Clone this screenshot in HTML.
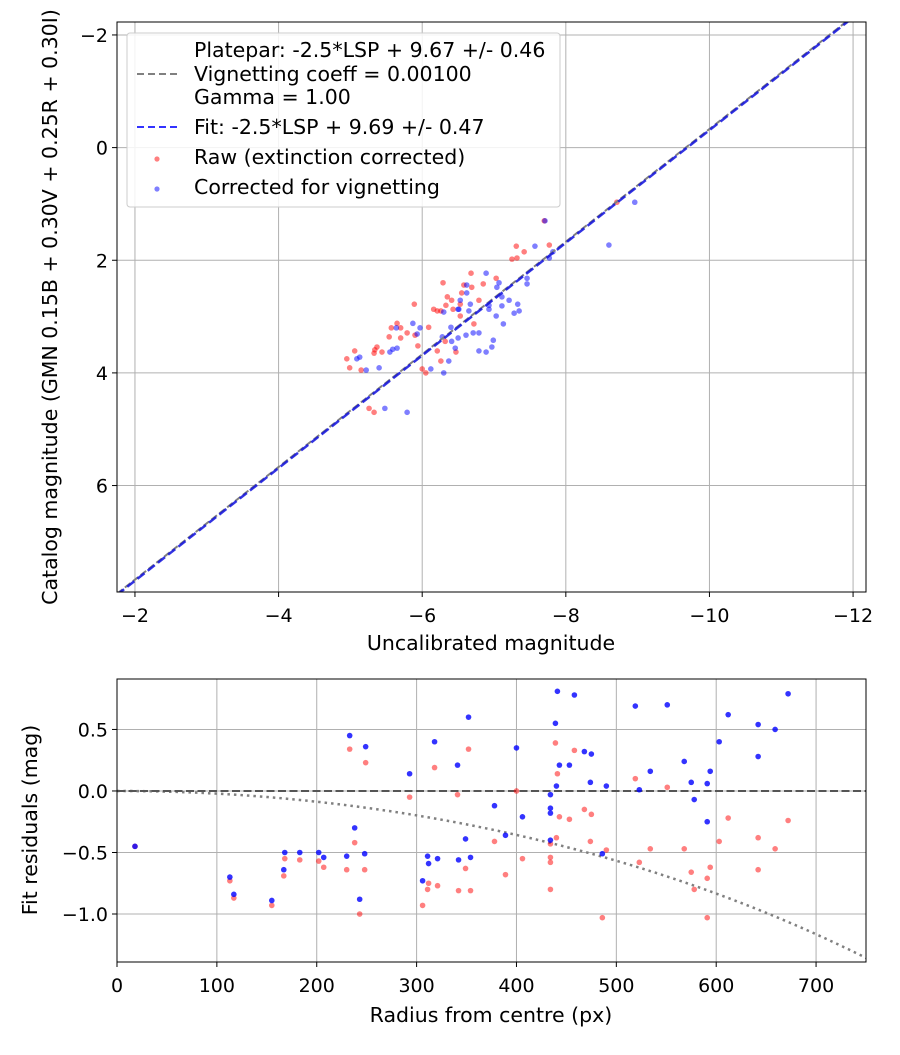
<!DOCTYPE html>
<html><head><meta charset="utf-8"><style>
body{margin:0;background:#fff}
svg text{font-family:"DejaVu Sans","Liberation Sans",sans-serif;fill:#000}
</style></head><body>
<svg id="s" width="900" height="1050" viewBox="0 0 900 1050" xmlns="http://www.w3.org/2000/svg">
<rect width="900" height="1050" fill="#fff"/>
<g id="topplot"></g>
<g id="botplot"></g>
</svg>
<script>
// ---- top chart data ----
const rawX=[-8.71,-7.70,-7.31,-7.77,-7.42,-7.25,-7.32,-6.68,-7.03,-6.29,-6.85,-6.58,-6.69,-6.35,-6.41,-6.55,-6.79,-5.89,-6.16,-6.21,-6.26,-6.33,-6.43,-6.53,-6.53,-6.72,-6.09,-5.65,-5.57,-5.70,-5.79,-5.54,-5.70,-5.90,-6.32,-5.94,-5.37,-5.34,-5.33,-5.44,-5.06,-4.95,-6.21,-6.47,-6.26,-4.99,-5.15,-6.00,-6.05,-5.26,-5.33];
const rawY=[0.97,1.30,1.75,1.73,1.85,1.98,1.96,2.23,2.32,2.40,2.42,2.44,2.48,2.65,2.71,2.58,2.71,2.78,2.87,2.90,2.90,2.80,2.87,2.78,2.99,3.13,3.19,3.12,3.20,3.20,3.29,3.36,3.38,3.33,3.44,3.52,3.54,3.59,3.65,3.63,3.61,3.75,3.61,3.63,3.79,3.91,3.95,3.93,4.00,4.63,4.70];
const corX=[-8.96,-7.71,-8.60,-7.57,-7.82,-7.77,-6.89,-7.07,-7.04,-6.62,-6.62,-7.46,-7.46,-7.11,-7.21,-7.33,-7.35,-7.28,-7.11,-6.93,-6.93,-6.67,-6.65,-6.53,-6.51,-6.50,-6.30,-7.03,-7.13,-6.40,-5.87,-5.97,-5.64,-5.93,-6.61,-6.71,-6.79,-6.50,-6.41,-6.28,-6.99,-6.97,-6.89,-6.79,-6.46,-5.59,-5.55,-5.65,-5.13,-5.09,-6.37,-5.40,-5.22,-6.12,-6.30,-5.48,-5.79];
const corY=[0.97,1.30,1.73,1.75,1.85,1.96,2.23,2.40,2.48,2.44,2.58,2.32,2.42,2.65,2.71,2.78,2.90,2.94,2.81,2.80,2.87,2.78,2.90,2.71,2.87,2.87,2.92,2.99,3.13,3.19,3.12,3.20,3.20,3.31,3.33,3.29,3.29,3.38,3.44,3.36,3.42,3.54,3.63,3.61,3.56,3.58,3.63,3.56,3.72,3.75,3.79,3.91,3.95,3.93,4.00,4.63,4.70];
const topXTicks=[-2,-4,-6,-8,-10,-12];
const topYTicks=[-2,0,2,4,6];
const fitIntercept=9.69, plateIntercept=9.67;
// ---- residual chart data ----
const resR=[18,113,117,155,168,167,183,202,207,230,233,238,243,249,248,293,306,311,312,318,321,341,342,349,352,354,378,400,406,389,439,441,458,443,453,440,434,434,434,434,468,475,474,490,486,519,523,551,534,568,575,578,594,591,591,603,612,642,642,659,672];
const resBlue=[-0.45,-0.70,-0.84,-0.89,-0.50,-0.64,-0.50,-0.50,-0.54,-0.53,0.45,-0.30,-0.88,0.36,-0.51,0.14,-0.73,-0.53,-0.59,0.40,-0.55,0.21,-0.56,-0.39,0.60,-0.54,-0.12,0.35,-0.21,-0.36,0.55,0.81,0.78,0.21,0.21,0.04,-0.03,-0.14,-0.18,-0.40,0.32,0.30,0.07,0.04,-0.51,0.69,0.01,0.70,0.16,0.24,0.07,-0.07,0.16,0.06,-0.25,0.40,0.62,0.54,0.28,0.50,0.79];
const resRed=[-0.45,-0.73,-0.87,-0.93,-0.55,-0.69,-0.56,-0.57,-0.62,-0.64,0.34,-0.42,-1.00,0.23,-0.64,-0.05,-0.93,-0.80,-0.75,0.19,-0.77,-0.03,-0.81,-0.63,0.34,-0.81,-0.41,0.00,-0.55,-0.68,0.39,0.14,0.33,-0.21,-0.23,-0.38,-0.43,-0.54,-0.58,-0.80,-0.15,-0.19,-0.41,-0.48,-1.03,0.10,-0.58,0.03,-0.47,-0.47,-0.66,-0.80,-0.62,-0.71,-1.03,-0.41,-0.22,-0.38,-0.64,-0.47,-0.24];
const botXTicks=[0,100,200,300,400,500,600,700];
const botYTicks=[0.5,0.0,-0.5,-1.0];
const vignCoeff=0.001;

const NS='http://www.w3.org/2000/svg';
function mk(p,t,a,txt){const e=document.createElementNS(NS,t);for(const k in a)e.setAttribute(k,a[k]);if(txt!==undefined)e.textContent=txt;p.appendChild(e);return e;}
const fmt=v=>(v<0?'\u2212':'')+Math.abs(v);
const fmt1=v=>(v<0?'\u2212':'')+Math.abs(v).toFixed(1);
const TF=19, LF=20.5;

// top axes
const T={l:117,t:22,r:866,b:592,x0:-1.75,x1:-12.18,y0:-2.23,y1:7.89};
const tx=v=>T.l+(v-T.x0)/(T.x1-T.x0)*(T.r-T.l);
const ty=v=>T.t+(v-T.y0)/(T.y1-T.y0)*(T.b-T.t);
const topG=document.getElementById('topplot');
topXTicks.forEach(v=>{const x=tx(v);
 let g=mk(topG,'line',{x1:x,x2:x,y1:T.t,y2:T.b,stroke:'#b0b0b0','stroke-width':1});
 
 mk(topG,'line',{x1:x,x2:x,y1:T.b,y2:T.b+5,stroke:'#000'});
 let t=mk(topG,'text',{x:x,y:T.b+30,'text-anchor':'middle','font-size':TF},fmt(v));
 });
topYTicks.forEach(v=>{const y=ty(v);
 let g=mk(topG,'line',{x1:T.l,x2:T.r,y1:y,y2:y,stroke:'#b0b0b0','stroke-width':1});
 
 mk(topG,'line',{x1:T.l-5,x2:T.l,y1:y,y2:y,stroke:'#000'});
 let t=mk(topG,'text',{x:T.l-9,y:y+7,'text-anchor':'end','font-size':TF},fmt(v));
 });
const clipT=mk(mk(topG,'defs',{}),'clipPath',{id:'ct'});mk(clipT,'rect',{x:T.l,y:T.t,width:T.r-T.l,height:T.b-T.t});
const plotG=mk(topG,'g',{'clip-path':'url(#ct)'});
rawX.forEach((x,i)=>{let c=mk(plotG,'circle',{cx:tx(x),cy:ty(rawY[i]),r:2.8,fill:'red','fill-opacity':0.5});
 });
corX.forEach((x,i)=>{let c=mk(plotG,'circle',{cx:tx(x),cy:ty(corY[i]),r:2.8,fill:'blue','fill-opacity':0.5});
 });
let pl=mk(plotG,'line',{x1:tx(T.x0),y1:ty(T.x0+plateIntercept),x2:tx(T.x1),y2:ty(T.x1+plateIntercept),stroke:'#808080','stroke-width':2,'stroke-dasharray':'7,3'});

let fl=mk(plotG,'line',{x1:tx(T.x0),y1:ty(T.x0+fitIntercept),x2:tx(T.x1),y2:ty(T.x1+fitIntercept),stroke:'#1010dd','stroke-opacity':0.85,'stroke-width':2.5,'stroke-dasharray':'9,4'});

mk(topG,'rect',{x:T.l,y:T.t,width:T.r-T.l,height:T.b-T.t,fill:'none',stroke:'#000','stroke-width':1});
// legend
const lg=mk(topG,'g',{});
mk(lg,'rect',{x:127,y:33,width:433,height:174,rx:3,fill:'#fff','fill-opacity':0.85,stroke:'#ccc'});
mk(lg,'line',{x1:137,x2:177,y1:74,y2:74,stroke:'#808080','stroke-width':2,'stroke-dasharray':'7,4'});
mk(lg,'line',{x1:137,x2:177,y1:127,y2:127,stroke:'#3333ff','stroke-width':2,'stroke-dasharray':'7,4'});
mk(lg,'circle',{cx:157,cy:159,r:2.6,fill:'red','fill-opacity':0.5});
mk(lg,'circle',{cx:157,cy:189,r:2.6,fill:'blue','fill-opacity':0.5});
[['Platepar: -2.5*LSP + 9.67 +/- 0.46',57],['Vignetting coeff = 0.00100',81],['Gamma = 1.00',104],['Fit: -2.5*LSP + 9.69 +/- 0.47',134],['Raw (extinction corrected)',164],['Corrected for vignetting',194]].forEach(a=>{
 let t=mk(lg,'text',{x:194,y:a[1],'font-size':LF},a[0]);});
let xl=mk(topG,'text',{x:491,y:650,'text-anchor':'middle','font-size':LF},'Uncalibrated magnitude');

let yl=mk(topG,'text',{x:0,y:0,'text-anchor':'middle','font-size':LF,transform:'translate(57,307) rotate(-90)'},'Catalog magnitude (GMN 0.15B + 0.30V + 0.25R + 0.30I)');


// bottom axes
const B={l:117,t:679,r:866,b:962,x0:0,x1:750,y0:0.91,y1:-1.39};
const bx=v=>B.l+(v-B.x0)/(B.x1-B.x0)*(B.r-B.l);
const by=v=>B.t+(v-B.y0)/(B.y1-B.y0)*(B.b-B.t);
const botG=document.getElementById('botplot');
botXTicks.forEach(v=>{const x=bx(v);
 let g=mk(botG,'line',{x1:x,x2:x,y1:B.t,y2:B.b,stroke:'#b0b0b0'});
 mk(botG,'line',{x1:x,x2:x,y1:B.b,y2:B.b+5,stroke:'#000'});
 let t=mk(botG,'text',{x:x,y:B.b+30,'text-anchor':'middle','font-size':TF},fmt(v));});
botYTicks.forEach(v=>{const y=by(v);
 let g=mk(botG,'line',{x1:B.l,x2:B.r,y1:y,y2:y,stroke:'#b0b0b0'});
 mk(botG,'line',{x1:B.l-5,x2:B.l,y1:y,y2:y,stroke:'#000'});
 let t=mk(botG,'text',{x:B.l-9,y:y+7,'text-anchor':'end','font-size':TF},fmt1(v));});
const clipB=mk(mk(botG,'defs',{}),'clipPath',{id:'cb'});mk(clipB,'rect',{x:B.l,y:B.t,width:B.r-B.l,height:B.b-B.t});
const bp=mk(botG,'g',{'clip-path':'url(#cb)'});
let pts=[];for(let r=0;r<=750;r+=5){const c=Math.cos(vignCoeff*r);pts.push(bx(r)+','+by(2.5*Math.log10(Math.pow(c,4))));}
let vc=mk(bp,'polyline',{points:pts.join(' '),fill:'none',stroke:'#808080','stroke-width':2.5,'stroke-dasharray':'2.5,4'});

let zl=mk(bp,'line',{x1:B.l,x2:B.r,y1:by(0),y2:by(0),stroke:'#555','stroke-width':2,'stroke-dasharray':'8,3.5'});

resR.forEach((r,i)=>{let c=mk(bp,'circle',{cx:bx(r),cy:by(resRed[i]),r:2.8,fill:'red','fill-opacity':0.5});
 });
resR.forEach((r,i)=>{let c=mk(bp,'circle',{cx:bx(r),cy:by(resBlue[i]),r:2.8,fill:'blue','fill-opacity':0.8});
 });
mk(botG,'rect',{x:B.l,y:B.t,width:B.r-B.l,height:B.b-B.t,fill:'none',stroke:'#000'});
let bxl=mk(botG,'text',{x:491,y:1022,'text-anchor':'middle','font-size':LF},'Radius from centre (px)');

let byl=mk(botG,'text',{x:0,y:0,'text-anchor':'middle','font-size':LF,transform:'translate(37,820) rotate(-90)'},'Fit residuals (mag)');

</script>
</body></html>
